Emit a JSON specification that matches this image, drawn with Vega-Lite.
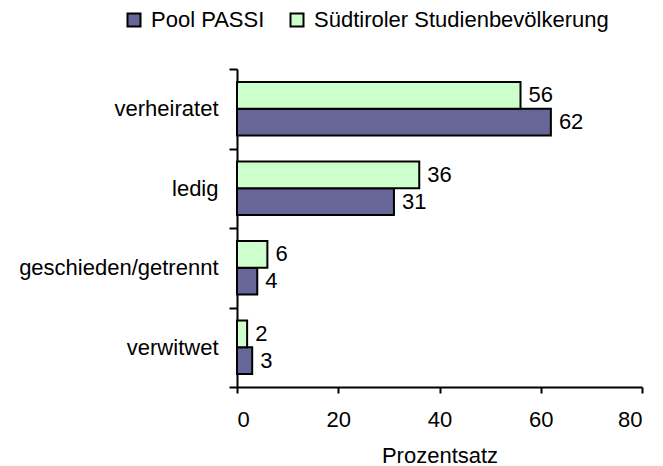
{
  "$schema": "https://vega.github.io/schema/vega-lite/v6.json",
  "autosize": "none",
  "width": 405,
  "height": 318,
  "padding": {"left": 237, "top": 69, "right": 21, "bottom": 79},
  "config": {
    "font": "Liberation Sans",
    "view": {"stroke": null},
    "axis": {
      "domainColor": "black",
      "domainWidth": 2,
      "tickColor": "black",
      "tickWidth": 2,
      "labelColor": "black",
      "titleColor": "black",
      "labelFontSize": 22,
      "titleFontSize": 22,
      "titleFontWeight": "normal",
      "labelFont": "Liberation Sans",
      "titleFont": "Liberation Sans"
    }
  },
  "data": {
    "values": [
      {"category": "verheiratet", "series": "Pool PASSI", "value": 62},
      {"category": "verheiratet", "series": "Südtiroler Studienbevölkerung", "value": 56},
      {"category": "ledig", "series": "Pool PASSI", "value": 31},
      {"category": "ledig", "series": "Südtiroler Studienbevölkerung", "value": 36},
      {"category": "geschieden/getrennt", "series": "Pool PASSI", "value": 4},
      {"category": "geschieden/getrennt", "series": "Südtiroler Studienbevölkerung", "value": 6},
      {"category": "verwitwet", "series": "Pool PASSI", "value": 3},
      {"category": "verwitwet", "series": "Südtiroler Studienbevölkerung", "value": 2}
    ]
  },
  "encoding": {
    "y": {
      "field": "category",
      "type": "nominal",
      "sort": ["verheiratet", "ledig", "geschieden/getrennt", "verwitwet"],
      "scale": {"paddingInner": 0, "paddingOuter": 0},
      "axis": {
        "title": null,
        "tickBand": "extent",
        "tickSize": 8,
        "labelPadding": 11,
        "labelLimit": 300
      }
    },
    "yOffset": {
      "field": "series",
      "type": "nominal",
      "sort": ["Südtiroler Studienbevölkerung", "Pool PASSI"],
      "scale": {"paddingInner": 0, "paddingOuter": 0.49}
    },
    "x": {
      "field": "value",
      "type": "quantitative",
      "scale": {"domain": [0, 80], "nice": false},
      "axis": {
        "title": "Prozentsatz",
        "values": [0, 20, 40, 60, 80],
        "grid": false,
        "tickSize": 6,
        "labelPadding": 16,
        "titlePadding": 15
      }
    }
  },
  "layer": [
    {
      "mark": {"type": "bar", "stroke": "black", "strokeWidth": 2},
      "encoding": {
        "color": {
          "field": "series",
          "type": "nominal",
          "scale": {
            "domain": ["Pool PASSI", "Südtiroler Studienbevölkerung"],
            "range": ["#666699", "#CCFFCC"]
          },
          "legend": {
            "orient": "none",
            "legendX": -114,
            "legendY": -60,
            "direction": "horizontal",
            "title": null,
            "symbolType": "square",
            "symbolSize": 169,
            "symbolStrokeColor": "black",
            "symbolStrokeWidth": 2,
            "symbolOpacity": 1,
            "labelFontSize": 22,
            "labelColor": "black",
            "labelFont": "Liberation Sans",
            "labelOffset": 6,
            "columnPadding": 21,
            "labelLimit": 400,
            "padding": 0
          }
        }
      }
    },
    {
      "mark": {"type": "text", "align": "left", "baseline": "middle", "dx": 8, "fontSize": 22, "color": "black", "font": "Liberation Sans"},
      "encoding": {
        "text": {"field": "value", "type": "quantitative"}
      }
    }
  ]
}
